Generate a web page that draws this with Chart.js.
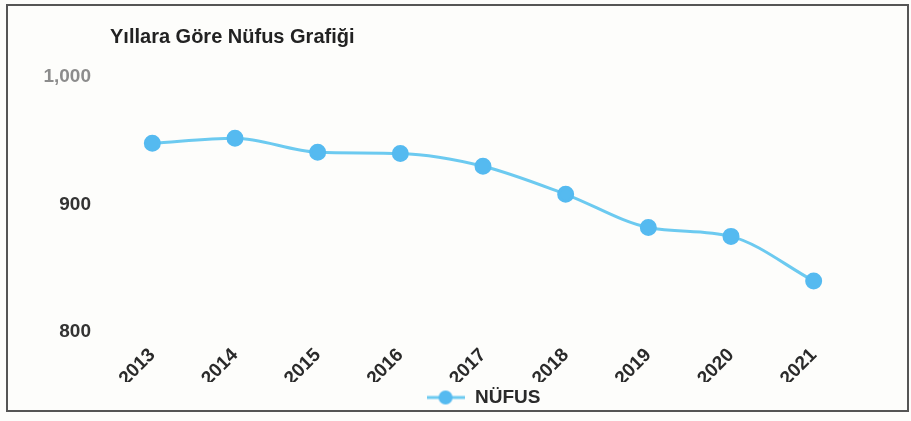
<!DOCTYPE html>
<html>
<head>
<meta charset="utf-8">
<script src="https://cdn.jsdelivr.net/npm/chart.js@4/dist/chart.umd.min.js"></script>
<style>
  html, body { margin: 0; padding: 0; background: #fdfdfb; }
  #wrap { position: relative; width: 911px; height: 421px; }
  canvas { display: block; }
</style>
</head>
<body>
<div id="wrap"><canvas id="c" width="911" height="421"></canvas></div>
<script>
const chartTitle = 'Yıllara Göre Nüfus Grafiği';
const years = ['2013', '2014', '2015', '2016', '2017', '2018', '2019', '2020', '2021'];
const nufus = [948, 952, 941, 940, 930, 908, 882, 875, 840];
const seriesName = 'NÜFUS';
const yTicks = [800, 900, 1000];

const lineColor = '#6ccaf0';
const pointColor = '#55baf0';
const FONT = "'Liberation Sans', Arial, sans-serif";

// legend marker: a short line with a dot
const marker = document.createElement('canvas');
marker.width = 38; marker.height = 16;
(function () {
  const g = marker.getContext('2d');
  g.strokeStyle = lineColor; g.lineWidth = 3;
  g.beginPath(); g.moveTo(0, 8); g.lineTo(38, 8); g.stroke();
  g.fillStyle = pointColor;
  g.beginPath(); g.arc(19, 8, 7, 0, Math.PI * 2); g.fill();
})();

const framePlugin = {
  id: 'frame',
  afterLayout(chart) {
    // center the legend under the plot area
    const lg = chart.legend, ca = chart.chartArea;
    if (lg && ca) {
      lg.left = ca.left;
      lg.right = ca.right;
      lg.width = ca.right - ca.left;
    }
  },
  beforeDraw(chart) {
    const ctx = chart.ctx;
    ctx.save();
    ctx.fillStyle = '#fdfdfb';
    ctx.fillRect(0, 0, chart.width, chart.height);
    ctx.strokeStyle = '#555555';
    ctx.lineWidth = 2;
    ctx.strokeRect(7, 5, 901, 406);
    ctx.restore();
  },
  afterDraw(chart) {
    const ctx = chart.ctx;
    ctx.save();
    ctx.font = 'bold 20px ' + FONT;
    ctx.fillStyle = '#222222';
    ctx.textBaseline = 'middle';
    ctx.textAlign = 'left';
    ctx.fillText(chartTitle, 110, 37);
    ctx.restore();
  }
};

new Chart(document.getElementById('c'), {
  type: 'line',
  data: {
    labels: years,
    datasets: [{
      label: seriesName,
      data: nufus,
      borderColor: lineColor,
      backgroundColor: pointColor,
      pointBackgroundColor: pointColor,
      pointBorderColor: pointColor,
      borderWidth: 3,
      pointRadius: 7,
      pointHoverRadius: 7,
      cubicInterpolationMode: 'monotone',
      fill: false
    }]
  },
  options: {
    responsive: false,
    animation: false,
    devicePixelRatio: 1,
    layout: { padding: { left: 41, right: 56, top: 77, bottom: 4 } },
    scales: {
      x: {
        offset: true,
        afterFit(scale) { scale.height = 50; },
        grid: { display: false, drawTicks: false },
        border: { display: false },
        ticks: {
          minRotation: 45, maxRotation: 45,
          padding: 12,
          color: '#2a2a2a',
          font: { family: FONT, size: 19, weight: 'bold' }
        }
      },
      y: {
        min: 800, max: 1000,
        afterBuildTicks(scale) { scale.ticks = yTicks.map(v => ({ value: v })); },
        afterFit(scale) { scale.width = 70; },
        grid: { display: false, drawTicks: false },
        border: { display: false },
        ticks: {
          padding: 20,
          color: (c) => c.tick && c.tick.value === 1000 ? '#8c8c8c' : '#333333',
          font: { family: FONT, size: 19, weight: 'bold' },
          callback: (v) => v.toLocaleString('en-US')
        }
      }
    },
    plugins: {
      title: { display: false },
      tooltip: { enabled: false },
      legend: {
        display: true,
        position: 'bottom',
        labels: {
          usePointStyle: true,
          pointStyleWidth: 40,
          padding: 6,
          color: '#2a2a2a',
          font: { family: FONT, size: 19, weight: 'bold' },
          generateLabels(chart) {
            return chart.data.datasets.map((ds, i) => ({
              text: ds.label,
              pointStyle: marker,
              fillStyle: pointColor,
              strokeStyle: pointColor,
              lineWidth: 0,
              hidden: false,
              datasetIndex: i,
              fontColor: '#2a2a2a'
            }));
          }
        }
      }
    }
  },
  plugins: [framePlugin]
});
</script>
</body>
</html>
